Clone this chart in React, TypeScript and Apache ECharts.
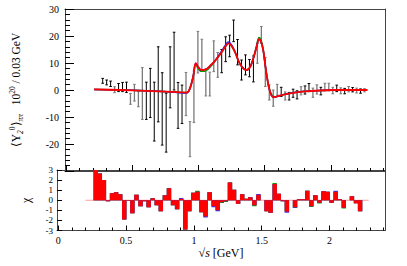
import React, { useEffect, useRef } from 'react';
import * as echarts from 'echarts';

// bin centres [GeV]
const energy = [
  0.275, 0.305, 0.335, 0.365, 0.395, 0.425, 0.455, 0.485, 0.515, 0.545,
  0.575, 0.605, 0.635, 0.665, 0.695, 0.725, 0.755, 0.785, 0.815, 0.845,
  0.875, 0.905, 0.935, 0.965, 0.995, 1.025, 1.055, 1.085, 1.115, 1.145,
  1.175, 1.205, 1.235, 1.265, 1.295, 1.325, 1.355, 1.385, 1.415, 1.445,
  1.475, 1.505, 1.535, 1.565, 1.595, 1.625, 1.655, 1.685, 1.715, 1.745,
  1.775, 1.805, 1.835, 1.865, 1.895, 1.925, 1.955, 1.985, 2.015, 2.045,
  2.075, 2.105, 2.135, 2.165, 2.195, 2.225, 2.255,
];
// <Y_2^0> moment values
const moments = [
  3.4, 2.8, 2.3, 0.1, 0.9, 1.1, 1.0, -3.3, -1.0, -3.4,
  -1.3, -4.0, -1.1, -8.0, 2.1, -7.0, -12.1, 4.7, 10.7, -5.7,
  -5.3, -1.5, -18.2, -2.5, 14.0, 13.1, 2.8, 2.2, 12.5, 9.3,
  10.7, 15.1, 16.3, 21.9, 14.0, 7.4, 9.3, 8.1, 7.8, 13.6,
  20.4, 6.7, -0.9, -3.0, 0.1, -0.7, -2.2, -2.3, -1.2, -1.8,
  -0.3, 0.0, 0.9, -1.0, 0.2, -0.4, 1.1, 1.1, -0.2, 0.6,
  -0.3, -0.4, 0.3, 0.1, -0.2, -0.4, -0.1,
];
const errors = [
  0.9, 0.9, 1.0, 1.1, 1.5, 1.7, 1.9, 2.0, 3.1, 2.8,
  9.6, 6.9, 9.1, 10.9, 13.9, 13.4, 10.9, 11.3, 10.7, 8.5,
  7.1, 8.0, 6.5, 9.5, 7.7, 5.7, 5.0, 4.4, 5.7, 4.6,
  4.3, 4.6, 4.0, 4.0, 4.7, 3.7, 3.7, 3.2, 4.8, 3.7,
  3.1, 5.4, 2.8, 3.0, 2.0, 1.7, 1.5, 1.4, 1.5, 1.5,
  1.5, 1.5, 1.5, 1.7, 1.7, 1.4, 1.4, 1.4, 1.2, 1.2,
  1.1, 1.0, 1.0, 0.8, 0.9, 0.8, 0.6,
];
// measurement set of each point (1 = set A, 0 = set B)
const source = [
  1, 1, 1, 0, 1, 1, 1, 0, 0, 0,
  0, 1, 1, 1, 1, 1, 1, 1, 1, 1,
  1, 0, 0, 0, 0, 0, 0, 0, 0, 0,
  1, 1, 1, 1, 1, 1, 1, 1, 1, 0,
  0, 0, 0, 0, 0, 1, 0, 1, 1, 1,
  0, 1, 1, 0, 0, 1, 0, 0, 0, 1,
  0, 1, 0, 1, 0, 1, 0,
];
// fit residuals chi
const chiRed = [
  3.0, 2.65, 2.0, -0.1, 0.7, 0.8, 0.6, -1.9, -0.05, -1.3,
  0.55, -0.6, -0.1, -0.7, 0.2, -0.5, -1.1, 0.5, 1.2, -0.5,
  -0.9, 0.15, -2.9, -1.1, 0.75, 0.85, -1.2, -1.6, 0.8, -0.6,
  -1.0, -0.2, -0.1, 1.75, 1.05, -0.35, 0.6, 0.15, 0.3, -0.5,
  0.55, 0.0, -1.1, -1.25, 1.6, 0.65, -0.1, -1.15, 0.0, -0.7,
  0.1, 0.1, 0.95, -0.6, 0.5, -0.25, 0.9, 0.85, -0.25, 0.85,
  0.1, -0.75, 0.0, 0.4, -0.3, -1.1, 0.0,
];
const chiBlue = [
  3.0, 2.65, 2.0, -0.1, 0.7, 0.8, 0.6, -1.9, -0.05, -1.3,
  0.55, -0.6, -0.1, -0.7, 0.2, -0.5, -1.1, 0.5, 1.2, -0.5,
  -0.9, 0.22, -2.9, -1.1, 0.75, 0.85, -1.2, -1.7, 0.8, -0.7,
  -1.1, -0.2, -0.1, 1.75, 1.05, -0.35, 0.6, 0.15, 0.3, -0.5,
  0.63, 0.0, -1.1, -1.25, 1.6, 0.65, -0.1, -1.25, 0.0, -0.75,
  0.1, 0.1, 0.95, -0.6, 0.5, -0.25, 0.9, 0.85, -0.25, 0.93,
  0.1, -0.75, 0.0, 0.4, -0.3, -1.1, 0.0,
];
const chiGreen = [
  3.0, 2.65, 2.0, -0.1, 0.7, 0.8, 0.6, -1.9, -0.05, -1.3,
  0.55, -0.6, -0.1, -0.7, 0.2, -0.5, -1.1, 0.5, 1.2, -0.5,
  -0.9, 0.15, -2.9, -1.1, 0.75, 0.93, -1.2, -1.6, 0.8, -0.6,
  -1.0, -0.28, -0.18, 1.75, 1.05, -0.35, 0.6, 0.15, 0.3, -0.6,
  0.55, 0.0, -1.1, -1.25, 1.7, 0.65, -0.1, -1.15, 0.0, -0.78,
  0.1, 0.1, 0.95, -0.68, 0.5, -0.33, 0.9, 0.85, -0.25, 0.85,
  0.1, -0.83, 0.0, 0.4, -0.3, -1.1, 0.0,
];
// fit curves
const fitX = [
  0.21, 0.4, 0.6, 0.8, 0.9, 0.915, 0.935, 0.959, 0.979, 0.996,
  1.021, 1.058, 1.095, 1.12, 1.169, 1.206, 1.225, 1.25, 1.28, 1.304,
  1.328, 1.358, 1.383, 1.402, 1.422, 1.439, 1.457, 1.472, 1.489, 1.501,
  1.513, 1.531, 1.55, 1.57, 1.587, 1.66, 1.784, 2.03, 2.276,
];
const fitRed = [
  0.2, 0.0, -0.3, -0.7, -0.95, -0.9, 0.6, 4.9, 9.9, 8.6,
  7.4, 7.7, 9.3, 10.5, 13.6, 16.3, 17.3, 16.3, 13.6, 10.5,
  8.6, 7.4, 8.0, 9.9, 13.0, 16.0, 18.8, 18.0, 14.8, 10.5,
  6.2, 1.2, -1.9, -2.7, -2.5, -1.5, -0.6, 0.0, 0.0,
];
const fitBlue = [
  0.2, 0.0, -0.3, -0.7, -1.1, -1.05, 0.5, 4.9, 9.9, 8.6,
  7.4, 7.7, 9.3, 10.5, 14.0, 16.8, 17.8, 16.7, 13.6, 10.5,
  8.6, 7.4, 8.0, 9.9, 13.0, 16.0, 18.8, 18.0, 14.8, 10.5,
  6.2, 1.2, -1.9, -2.7, -2.5, -1.5, -0.6, 0.0, 0.0,
];
const fitGreen = [
  0.2, 0.0, -0.3, -0.7, -0.95, -0.9, 0.6, 4.9, 9.6, 8.0,
  6.9, 7.2, 8.9, 10.5, 13.6, 16.3, 17.3, 16.3, 13.6, 10.5,
  8.6, 7.4, 8.0, 9.9, 13.0, 16.5, 19.4, 18.6, 14.8, 10.5,
  6.2, 1.2, -1.5, -2.4, -2.5, -1.5, -0.6, 0.0, 0.0,
];
const baselineX = [0.2, 2.29];
const xMajorTicks = [0, 0.5, 1, 1.5, 2];
const xMinorTicks = [
  0.1, 0.2, 0.3, 0.4, 0.6, 0.7, 0.8, 0.9, 1.1, 1.2, 1.3, 1.4,
  1.6, 1.7, 1.8, 1.9, 2.1, 2.2, 2.3, 2.4,
];

const FONT = 'Liberation Serif';
const FRAME = '#444';
const X_MIN = -0.01;
const X_MAX = 2.41;
const BIN_HALF = 0.015;

export default function App() {
  const ref = useRef<HTMLDivElement>(null);

  useEffect(() => {
    if (!ref.current) return;
    const chart = echarts.init(ref.current, null, { renderer: 'svg' });

    const pts = energy.map((x, i) => [x, moments[i], errors[i], source[i]]);
    const fitSeries = (ys: number[], color: string, width: number, z: number) => ({
      type: 'line',
      xAxisIndex: 0,
      yAxisIndex: 0,
      data: fitX.map((x, i) => [x, ys[i]]),
      smooth: 0.35,
      showSymbol: false,
      lineStyle: { color, width },
      z,
      silent: true,
    });
    const chiSeries = (vals: number[], color: string, z: number) => ({
      type: 'custom',
      xAxisIndex: 3,
      yAxisIndex: 2,
      clip: true,
      z,
      data: energy.map((x, i) => [x, vals[i]]),
      renderItem: (_p: any, api: any) => {
        const x = api.value(0);
        const v = api.value(1);
        const a = api.coord([x - BIN_HALF, v]);
        const b = api.coord([x + BIN_HALF, 0]);
        return {
          type: 'rect',
          shape: {
            x: a[0],
            y: Math.min(a[1], b[1]),
            width: b[0] - a[0] + 0.3,
            height: Math.abs(a[1] - b[1]),
          },
          style: { fill: color },
        };
      },
    });

    const axisLabelStyle = { fontFamily: FONT, fontSize: 10, color: '#000' };
    const noLine = { show: false, onZero: false };

    const option: any = {
      animation: false,
      backgroundColor: '#fff',
      grid: [
        { left: 57, top: 9, width: 328, height: 162, containLabel: false },
        { left: 57, top: 170, width: 328, height: 60.5, containLabel: false },
      ],
      xAxis: [
        {
          type: 'value', gridIndex: 0, min: X_MIN, max: X_MAX, position: 'bottom',
          axisLine: { show: true, onZero: false, lineStyle: { color: FRAME, width: 1 } },
          axisTick: { show: true, inside: true, length: 6, customValues: xMajorTicks, lineStyle: { color: '#000' } },
          axisLabel: { show: false },
          splitLine: { show: false },
        },
        {
          type: 'value', gridIndex: 0, min: X_MIN, max: X_MAX, position: 'bottom',
          axisLine: noLine,
          axisTick: { show: true, inside: true, length: 3, customValues: xMinorTicks, lineStyle: { color: '#000' } },
          axisLabel: { show: false },
          splitLine: { show: false },
        },
        {
          type: 'value', gridIndex: 0, min: X_MIN, max: X_MAX, position: 'top',
          axisLine: { show: true, onZero: false, lineStyle: { color: FRAME, width: 1 } },
          axisTick: { show: false }, axisLabel: { show: false }, splitLine: { show: false },
        },
        {
          type: 'value', gridIndex: 1, min: X_MIN, max: X_MAX, position: 'bottom',
          axisLine: { show: true, onZero: false, lineStyle: { color: FRAME, width: 1 } },
          axisTick: { show: true, inside: true, length: 5, customValues: xMajorTicks, lineStyle: { color: '#000' } },
          axisLabel: {
            show: true, customValues: xMajorTicks, margin: 5, ...axisLabelStyle,
            formatter: (v: number) => String(v),
          },
          splitLine: { show: false },
          name: '{r|√}{i|s} {r|[GeV]}',
          nameLocation: 'middle',
          nameGap: 16,
          nameTextStyle: {
            fontFamily: FONT, fontSize: 12, color: '#000', verticalAlign: 'top',
            rich: {
              r: { fontFamily: FONT, fontSize: 12, color: '#000' },
              i: { fontFamily: FONT, fontSize: 12, fontStyle: 'italic', color: '#000' },
            },
          },
        },
        {
          type: 'value', gridIndex: 1, min: X_MIN, max: X_MAX, position: 'bottom',
          axisLine: noLine,
          axisTick: { show: true, inside: true, length: 3, customValues: xMinorTicks, lineStyle: { color: '#000' } },
          axisLabel: { show: false },
          splitLine: { show: false },
        },
        {
          type: 'value', gridIndex: 1, min: X_MIN, max: X_MAX, position: 'top',
          axisLine: { show: true, onZero: false, lineStyle: { color: FRAME, width: 1 } },
          axisTick: { show: false }, axisLabel: { show: false }, splitLine: { show: false },
        },
      ],
      yAxis: [
        {
          type: 'value', gridIndex: 0, min: -30, max: 30, interval: 10, position: 'left',
          axisLine: { show: true, onZero: false, lineStyle: { color: FRAME, width: 1 } },
          axisTick: { show: true, inside: true, length: 9, lineStyle: { color: '#000' } },
          minorTick: { show: true, splitNumber: 5, length: 5, lineStyle: { color: '#000' } },
          axisLabel: {
            show: true, margin: 6, ...axisLabelStyle,
            formatter: (v: number) => (v === -30 ? '' : String(v)),
          },
          splitLine: { show: false },
          name: '{a|⟨Y}{sub|2}{sup|0}{a|⟩}{sub|ππ}{a|   10}{sup|20}{a| / 0.03 GeV}',
          nameLocation: 'middle',
          nameRotate: 90,
          nameGap: 41,
          nameTextStyle: {
            fontFamily: FONT, fontSize: 11.5, color: '#000',
            rich: {
              a: { fontFamily: FONT, fontSize: 11.5, color: '#000', lineHeight: 16, verticalAlign: 'middle' },
              sub: { fontFamily: FONT, fontSize: 7.5, color: '#000', fontStyle: 'italic', verticalAlign: 'bottom', lineHeight: 16 },
              sup: { fontFamily: FONT, fontSize: 7.5, color: '#000', verticalAlign: 'top', lineHeight: 16 },
            },
          },
        },
        {
          type: 'value', gridIndex: 0, min: -30, max: 30, position: 'right',
          axisLine: { show: true, onZero: false, lineStyle: { color: FRAME, width: 1 } },
          axisTick: { show: false }, axisLabel: { show: false }, splitLine: { show: false },
        },
        {
          type: 'value', gridIndex: 1, min: -3, max: 3, interval: 1, position: 'left',
          axisLine: { show: true, onZero: false, lineStyle: { color: FRAME, width: 1 } },
          axisTick: { show: true, inside: true, length: 5, lineStyle: { color: '#000' } },
          axisLabel: { show: true, margin: 4, ...axisLabelStyle, fontSize: 9 },
          splitLine: { show: false },
          name: 'χ',
          nameLocation: 'middle',
          nameRotate: 90,
          nameGap: 25,
          nameTextStyle: { fontFamily: FONT, fontSize: 12, color: '#000' },
        },
        {
          type: 'value', gridIndex: 1, min: -3, max: 3, position: 'right',
          axisLine: { show: true, onZero: false, lineStyle: { color: FRAME, width: 1 } },
          axisTick: { show: false }, axisLabel: { show: false }, splitLine: { show: false },
        },
      ],
      series: [
        {
          type: 'custom',
          xAxisIndex: 0,
          yAxisIndex: 0,
          clip: true,
          z: 3,
          data: pts,
          renderItem: (_p: any, api: any) => {
            const x = api.value(0);
            const y = api.value(1);
            const e = api.value(2);
            const color = api.value(3) === 1 ? '#000' : '#7a7a7a';
            const t = api.coord([x, y + e]);
            const b = api.coord([x, y - e]);
            const w = api.value(3) === 1 ? 1 : 1.3;
            return {
              type: 'group',
              children: [
                { type: 'line', shape: { x1: t[0], y1: t[1], x2: b[0], y2: b[1] }, style: { stroke: color, lineWidth: w } },
                { type: 'line', shape: { x1: t[0] - 1.3, y1: t[1], x2: t[0] + 1.3, y2: t[1] }, style: { stroke: color, lineWidth: 1 } },
                { type: 'line', shape: { x1: b[0] - 1.3, y1: b[1], x2: b[0] + 1.3, y2: b[1] }, style: { stroke: color, lineWidth: 1 } },
              ],
            };
          },
        },
        fitSeries(fitGreen, '#00a000', 1.5, 4),
        fitSeries(fitBlue, '#2020ff', 1.5, 5),
        fitSeries(fitRed, '#ff0000', 1.8, 6),
        {
          type: 'line',
          xAxisIndex: 3,
          yAxisIndex: 2,
          data: baselineX.map((x) => [x, 0]),
          showSymbol: false,
          lineStyle: { color: '#ff9a9a', width: 1 },
          z: 2,
          silent: true,
        },
        chiSeries(chiGreen, '#00a000', 3),
        chiSeries(chiBlue, '#3030ff', 4),
        chiSeries(chiRed, '#ff0000', 5),
      ],
    };

    chart.setOption(option);
    return () => chart.dispose();
  }, []);

  return (
    <div
      ref={ref}
      style={{ position: 'fixed', left: 0, top: 0, width: 407, height: 266, background: '#fff' }}
    />
  );
}
